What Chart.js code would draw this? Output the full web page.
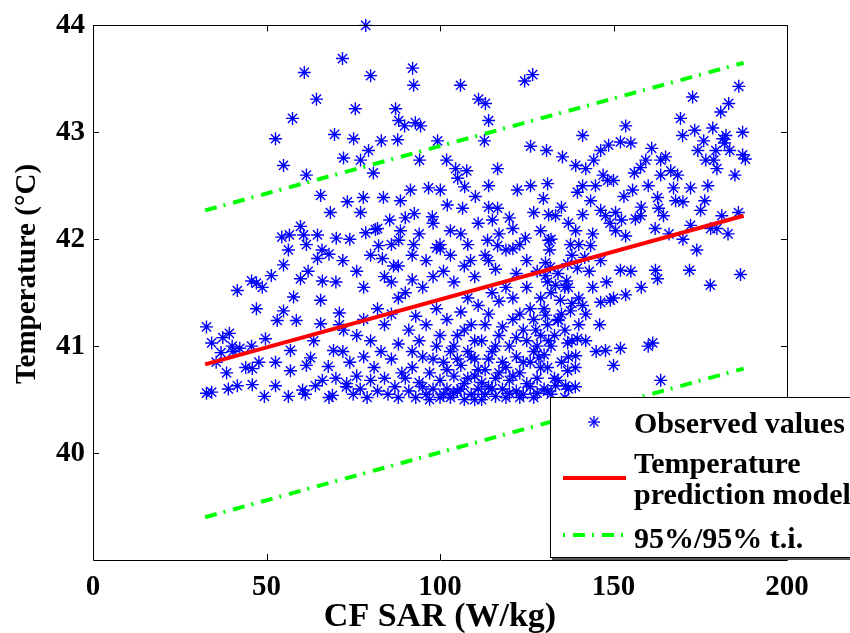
<!DOCTYPE html>
<html>
<head>
<meta charset="utf-8">
<script src="https://cdn.jsdelivr.net/npm/chart.js@4.4.1/dist/chart.umd.min.js"></script>
<style>
  html, body { margin: 0; padding: 0; background: #fff; }
  #wrap { position: relative; width: 850px; height: 633px; overflow: hidden; }
  #ytitle {
    position: absolute; left: -123px; top: 256px; width: 300px; height: 36px; line-height: 36px;
    text-align: center; transform: rotate(-90deg); transform-origin: 150px 18px;
    font: bold 29px "Liberation Serif", "Times New Roman", serif; color: #000; white-space: nowrap;
  }
  #legend {
    position: absolute; left: 550px; top: 397px; width: 320px; height: 159px;
    background: #fff; border: 1px solid #000; box-shadow: 2px 2px 0 #555;
    font: bold 30px "Liberation Serif", "Times New Roman", serif; color: #000;
  }
  #legend .txt { position: absolute; left: 83px; line-height: 30px; white-space: nowrap; }
  #legend svg { position: absolute; }
</style>
</head>
<body>
<div id="wrap">
  <canvas id="chart" width="850" height="633"></canvas>
  <div id="ytitle">Temperature (°C)</div>
  <div id="legend">
    <svg style="left:35px;top:16px" width="16" height="16" viewBox="-8 -8 16 16">
      <g stroke="#0000ff" stroke-width="1.3">
        <line x1="-6" y1="0" x2="6" y2="0"/><line x1="0" y1="-6" x2="0" y2="6"/>
        <line x1="-4.2" y1="-4.2" x2="4.2" y2="4.2"/><line x1="-4.2" y1="4.2" x2="4.2" y2="-4.2"/>
      </g>
    </svg>
    <div class="txt" style="top:10px">Observed values</div>
    <svg style="left:12px;top:75px" width="64" height="10">
      <line x1="0" y1="5" x2="63" y2="5" stroke="#ff0000" stroke-width="4"/>
    </svg>
    <div class="txt" style="top:50px">Temperature</div>
    <div class="txt" style="top:81px">prediction model</div>
    <svg style="left:12px;top:132px" width="64" height="10">
      <line x1="0" y1="5" x2="63" y2="5" stroke="#00ff00" stroke-width="4" stroke-dasharray="2 8 12 7"/>
    </svg>
    <div class="txt" style="top:125px">95%/95% t.i.</div>
  </div>
</div>
<script>
const xTicks = [0, 50, 100, 150, 200];
const yTicks = [40, 41, 42, 43, 44];

// fitted model and tolerance interval, end points
const fitSar = [32.3, 187.5];
const fitTemp = [40.83, 42.22];
const upperTemp = [42.27, 43.65];
const lowerTemp = [39.40, 40.79];

// observed (SAR, temperature) pairs
const observed = [
  [78.6,44.0],[52.6,42.94],[57.5,43.13],[60.9,43.56],[64.4,43.31],[71.9,43.69],[75.6,43.22],[80,43.53],[92.1,43.6],[92.4,43.44],
  [105.9,43.44],[124.4,43.48],[126.7,43.54],[113.1,43.27],[111.1,43.31],[89.8,43.06],[87.2,43.22],[87.8,42.93],[94.4,43.06],[88.1,43.11],
  [92.9,43.09],[72.2,42.76],[69.6,42.98],[75.1,42.94],[79.4,42.83],[77.1,42.74],[83.1,42.92],[99.3,42.92],[114,43.11],[112.8,42.92],
  [94.1,42.74],[101.9,42.74],[104.5,42.66],[54.9,42.69],[61.5,42.6],[80.8,42.62],[77.9,42.39],[83.7,42.39],[68.4,42.25],[56.6,42.04],
  [59.8,42.12],[60.7,42.04],[56.3,41.9],[54.9,41.76],[54.4,42.02],[64.7,42.04],[64.7,41.82],[61.5,41.95],[66.1,41.61],[59.8,41.63],
  [57.8,41.46],[48.8,41.55],[47.1,41.59],[51.4,41.66],[45.7,41.61],[41.6,41.52],[47.1,41.35],[54.9,41.33],[58.6,41.24],[65.6,41.43],
  [65.6,41.21],[53.1,41.24],[32.7,41.18],[34.2,41.03],[37.4,41.08],[39.3,41.12],[40.1,41.0],[36.9,40.94],[35.5,40.85],[40.3,40.95],
  [45.7,41.0],[49.7,41.07],[42.3,40.98],[38.5,40.75],[44.0,40.8],[45.9,40.79],[47.8,40.85],[32.7,40.56],[34.2,40.57],[39.0,40.6],
  [41.6,40.63],[45.9,40.64],[49.4,40.53],[56.3,40.53],[52.6,40.63],[60.4,40.59],[56.9,40.77],[52.6,40.85],[56.9,40.96],[61.5,40.82],
  [62.7,40.89],[63.6,41.05],[69.3,40.96],[67.8,40.81],[66.1,40.68],[61.2,40.55],[64.1,40.63],[69.0,40.54],[73.1,40.65],[72.2,41.15],
  [71.0,41.31],
  [65.6,42.41],[73.3,42.35],[77.1,42.25],[70.1,42.01],[68.0,41.86],[78.6,42.06],[81.4,42.09],[85.5,42.18],[88.6,42.36],[91.5,42.46],
  [92.6,42.24],[88.6,42.08],[88.1,41.99],[82.3,41.94],[83.4,41.82],[86.6,41.75],[92.4,41.95],[99.0,41.92],[100.1,41.91],[103,42.08],
  [102.1,42.32],[106.5,42.29],[110.2,42.4],[114,42.5],[107.1,42.49],[97.8,42.21],[100.1,42.46],[96.7,42.48],[105.1,42.57],[107.7,42.64],
  [116.6,42.66],[116.6,42.29],[115.1,42.18],[113.7,41.99],[108.8,41.8],[114,41.8],[116.6,41.94],[121,42.1],[121,41.91],[124.6,42.01],
  [122.3,42.46],[126.1,42.5],[129.8,42.38],[131,42.52],[130.7,42.83],[135.3,42.77],[126.1,42.87],[133.3,42.22],[131.3,42.23],[129,42.08],
  [131.3,41.99],[131.6,41.9],[130.4,41.78],[133.3,41.57],[136.8,41.77],[139.6,41.73],[136.5,41.61],[131.8,41.74],[130.4,41.66],
  [141.1,42.97],[146.3,42.83],[148.6,42.88],[142,42.66],[139.1,42.69],[144.3,42.74],[152,42.91],[153.5,43.06],[155.5,42.46],[148.3,42.55],
  [144.8,42.5],[141.1,42.5],[139.6,42.44],[143.4,42.36],[146.3,42.27],[147.7,42.22],[150.6,42.25],[152.3,42.18],[156.3,42.19],[157.8,42.22],
  [150.6,42.08],[153.5,42.03],[141.1,42.23],[139.1,42.08],[137.6,41.95],[143.4,41.94],[141.7,41.83],[138,41.85],[146.3,41.8],[157.8,42.67],
  [159.3,42.74],[163.6,42.74],[165,42.77],[163.6,42.6],[166.5,42.64],[168.5,42.6],[167.3,42.48],[162.7,42.39],[163,42.29],[164.4,42.22],
  [167.9,42.36],[169.9,42.97],[172.8,43.33],[169.3,43.13],[173.4,43.02],[174.3,42.83],[176.6,42.74],[178.9,42.74],[180.9,43.19],[178.6,43.04],
  [176,42.92],[182.4,42.97],[186.1,43.43],[183.2,43.27],[187.2,43.0],[187.2,42.79],[181.5,42.94],[183.5,42.83],[179.5,42.83],[179.8,42.66],
  [177.2,42.5],[176.3,42.36],[181.2,42.22],[179.8,42.1],[175.1,42.27],[172.2,42.13],[172.2,42.48],[186.6,41.67],[177.9,41.57],[171.9,41.71],
  [162.1,41.71],[162.7,41.63],[153.5,41.48],[152,41.71],[161.3,41.03],[163.6,40.68],[147.7,40.96],[150,40.82],[152,40.98],[139.6,41.07],
  [136.8,41.03],[139.1,40.91],[136.8,40.77],[133.3,40.63],[136.2,40.63],[146.3,41.41],[149.1,41.43],[141.1,41.38],[137.6,41.33],[134.7,41.43],
  [134.1,41.24],[130.4,41.29],[127.6,41.15],[131.3,41.05],[128.5,40.89],
  [85,40.55],[87,40.62],[88,40.52],[90,40.7],[91,40.58],[92,40.8],[93,40.52],[94,40.66],[95,40.9],[96,40.55],
  [97,40.75],[98,40.6],[99,41.0],[100,40.52],[100,40.68],[101,40.85],[102,40.6],[103,40.95],[103,40.52],[104,40.72],
  [105,41.1],[105,40.58],[106,40.82],[107,40.5],[107,40.65],[108,40.95],[109,40.55],[109,41.2],[110,40.72],[110,40.88],
  [111,40.6],[112,41.05],[112,40.5],[113,40.78],[114,40.62],[114,41.3],[115,40.95],[116,40.53],[116,40.7],[117,41.1],
  [118,40.6],[118,40.85],[119,40.52],[120,41.0],[120,40.68],[121,41.25],[122,40.58],[122,40.9],[123,40.75],[124,41.15],
  [124,40.55],[125,40.65],[126,41.35],[126,40.85],[127,40.52],[128,41.0],[128,40.7],[129,41.45],[130,40.6],[131,41.2],
  [131,40.8],[132,40.55],[133,41.1],[134,40.68],[135,41.3],[136,40.52],[137,40.9],[138,41.05],[139,40.62],[140,41.2],
  [86,40.88],[88,41.02],[89,40.75],[91,41.15],[92,40.95],[93,41.28],[94,41.05],[95,40.62],[96,41.2],[97,40.5],
  [98,40.88],[99,41.35],[100,41.1],[101,40.55],[102,41.25],[102,40.78],[104,41.0],[104,40.56],[105,40.88],[106,41.32],
  [106,40.6],[107,41.15],[108,40.7],[108,41.45],[109,40.9],[110,41.05],[110,40.5],[111,41.38],[111,40.78],[112,40.66],
  [113,41.2],[113,40.55],[114,40.88],[115,41.5],[115,40.6],[116,41.0],[117,40.75],[117,41.42],[118,41.18],[119,40.8],
  [119,41.55],[120,40.56],[121,40.72],[121,41.45],[122,41.08],[123,40.52],[123,41.3],[124,40.85],[125,41.05],[125,41.55],
  [126,40.62],[127,40.95],[127,41.25],[128,40.56],[129,40.8],[129,41.1],[130,41.35],[130,40.92],[131,40.58],[132,41.0],
  [132,41.5],[133,40.7],[134,41.25],[135,40.85],[136,41.15],[136,41.55],[137,40.6],[138,41.4],[139,40.8],
  [75,40.55],[76,40.72],[77,40.6],[78,40.9],[79,40.52],[80,40.68],[80,41.05],[81,40.8],[82,40.58],[83,40.95],
  [84,40.7],[84,41.2],[78,41.25],[76,41.1],[74,40.85],[73,40.62],[72,40.95],[70,40.7],[68,40.52],[71,41.2],
  [82,41.35],[86,41.3],[88,41.45],[90,41.5],[86,41.6],[92,41.62],[95,41.55],[98,41.65],[101,41.7],[104,41.6],
  [107,41.75],[110,41.65],[113,41.85],[116,41.72],[119,41.9],[122,41.68],[125,41.8],[128,41.7],[131,41.6],[134,41.68],
  [137,41.55],[140,41.45],[142,41.3],[144,41.55],[146,41.2],[143,41.7],[148,41.6],[150,41.45],[155,41.7],[158,41.55],
  [145,40.95],[142,41.05],[160,41.0],
  [150,42.55],[153,42.4],[156,42.62],[160,42.5],[158,42.3],[162,42.1],[166,42.05],[170,42.0],[174,41.9],[178,42.1],
  [183,42.05],[186,42.25],[185,42.6],[188,42.75],[182,42.9],[170,42.35],[161,42.85],[155,42.9],[147,42.6],[149,42.15],
  [144,42.05],[140,41.95],[137,42.15],[135,42.3],[132,42.0],
  [62,41.7],[66,41.9],[70,41.6],[72,41.8],[74,42.0],[76,41.7],[78,41.55],[80,41.85],[82,42.1],[84,41.65],
  [86,41.95],[88,41.75],[90,42.2],[92,41.85],[94,42.05],[96,41.8],[98,42.15],[100,41.95],[103,41.85],[106,42.05],
  [108,41.95],[111,42.15],[114,42.3],[117,42.05],[120,42.2],[123,41.95],[127,42.25]
];

const serif = '"Liberation Serif", "Times New Roman", serif';

// MATLAB style box with inward tick marks on all four sides
const boxTicks = {
  id: 'boxTicks',
  afterDatasetsDraw(chart) {
    const { ctx, chartArea: a, scales: { x, y } } = chart;
    const len = 6;
    ctx.save();
    ctx.strokeStyle = '#000';
    ctx.lineWidth = 1;
    ctx.beginPath();
    ctx.rect(Math.round(a.left) + 0.5, Math.round(a.top) + 0.5, Math.round(a.right - a.left), Math.round(a.bottom - a.top));
    xTicks.forEach(v => {
      const px = Math.round(x.getPixelForValue(v)) + 0.5;
      ctx.moveTo(px, a.bottom); ctx.lineTo(px, a.bottom - len);
      ctx.moveTo(px, a.top); ctx.lineTo(px, a.top + len);
    });
    yTicks.forEach(v => {
      const py = Math.round(y.getPixelForValue(v)) + 0.5;
      ctx.moveTo(a.left, py); ctx.lineTo(a.left + len, py);
      ctx.moveTo(a.right, py); ctx.lineTo(a.right - len, py);
    });
    ctx.stroke();
    ctx.restore();
  }
};

new Chart(document.getElementById('chart'), {
  type: 'scatter',
  plugins: [boxTicks],
  data: {
    datasets: [
      {
        label: 'Temperature prediction model',
        data: fitSar.map((s, i) => ({ x: s, y: fitTemp[i] })),
        showLine: true, borderColor: '#ff0000', borderWidth: 4, pointRadius: 0
      },
      {
        label: '95%/95% t.i.',
        data: fitSar.map((s, i) => ({ x: s, y: upperTemp[i] })),
        showLine: true, borderColor: '#00ff00', borderWidth: 4, borderDash: [12, 7, 2, 8], pointRadius: 0
      },
      {
        label: '95%/95% t.i. (lower)',
        data: fitSar.map((s, i) => ({ x: s, y: lowerTemp[i] })),
        showLine: true, borderColor: '#00ff00', borderWidth: 4, borderDash: [12, 7, 2, 8], pointRadius: 0
      },
      {
        label: 'Observed values',
        data: observed.map(p => ({ x: p[0], y: p[1] })),
        pointStyle: 'star', pointRadius: 6.5, borderColor: '#0000ff', borderWidth: 1.4,
        backgroundColor: '#0000ff', clip: false
      }
    ]
  },
  options: {
    responsive: false,
    animation: false,
    layout: { padding: { top: 25, right: 63, left: 0, bottom: 0 } },
    plugins: { legend: { display: false }, tooltip: { enabled: false } },
    scales: {
      x: {
        type: 'linear', min: 0, max: 200,
        afterBuildTicks: s => { s.ticks = xTicks.map(v => ({ value: v })); },
        afterFit: s => { s.height = 73; },
        grid: { display: false, drawTicks: false },
        border: { display: false },
        ticks: { color: '#000', padding: 10, autoSkip: false, maxRotation: 0, font: { family: serif, size: 29, weight: 'bold' } },
        title: { display: true, text: 'CF SAR (W/kg)', color: '#000', padding: { top: 0, bottom: 0 },
                 font: { family: serif, size: 34, weight: 'bold', lineHeight: 0.9 } }
      },
      y: {
        type: 'linear', min: 39, max: 44,
        afterBuildTicks: s => { s.ticks = yTicks.map(v => ({ value: v })); },
        afterFit: s => { s.width = 93; },
        grid: { display: false, drawTicks: false },
        border: { display: false },
        ticks: { color: '#000', padding: 8, font: { family: serif, size: 29, weight: 'bold' } }
      }
    }
  }
});
</script>
</body>
</html>
